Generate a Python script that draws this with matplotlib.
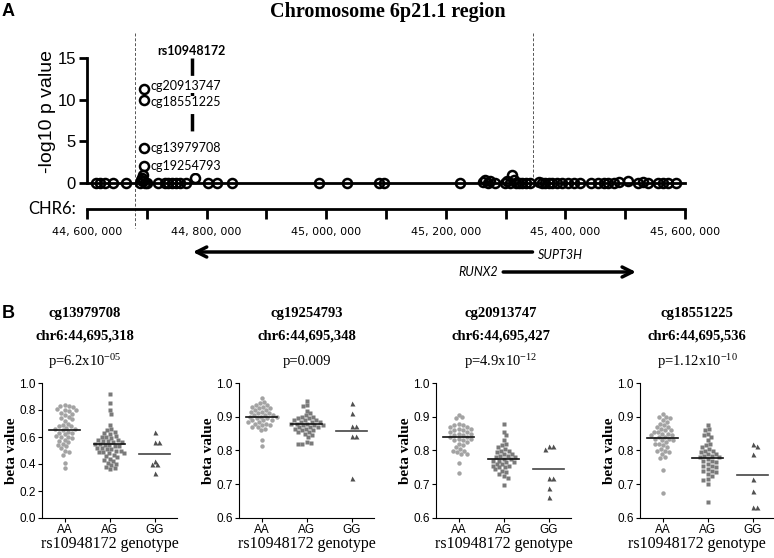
import numpy as np
import matplotlib
matplotlib.use('Agg')
from matplotlib import pyplot as plt
from matplotlib import transforms
from matplotlib.ticker import FuncFormatter, MultipleLocator

plt.rcParams['font.family'] = 'Liberation Sans'
plt.rcParams['mathtext.fontset'] = 'custom'
plt.rcParams['mathtext.rm'] = 'Liberation Serif'
plt.rcParams['mathtext.it'] = 'Liberation Serif:italic'
plt.rcParams['mathtext.bf'] = 'Liberation Serif:bold'

# ---- panel A data: CpG positions (bp) and -log10 p
cpg_pos = [44615000, 44622000, 44630000, 44643000, 44665000,
           44688000, 44690000, 44692000, 44693000, 44694000, 44697000,
           44700000, 44718000, 44730000, 44736000, 44742000, 44748000, 44755000, 44765000,
           44781000, 44803000, 44817000, 44842000,
           44988000, 45034000, 45089000, 45097000,
           45224000, 45262000, 45266000, 45270000, 45274000, 45282000,
           45299000, 45303000, 45307000, 45311000, 45314000, 45318000, 45322000, 45328000,
           45334000, 45341000,
           45356000, 45361000, 45366000, 45372000, 45378000, 45386000, 45395000, 45405000,
           45415000, 45425000,
           45442000, 45454000, 45464000, 45471000, 45481000, 45489000, 45504000, 45521000,
           45529000, 45538000, 45555000, 45563000, 45571000, 45585000]
cpg_logp = [0, 0, 0, 0, 0,
            0, 0.3, 0.6, 1.0, 0.2, 0,
            0, 0, 0, 0, 0, 0, 0, 0,
            0.65, 0, 0, 0,
            0, 0, 0, 0,
            0, 0.1, 0.3, 0, 0.2, 0,
            0, 0.2, 0, 1.0, 0.4, 0, 0, 0,
            0, 0,
            0.15, 0, 0, 0, 0, 0, 0, 0,
            0, 0,
            0, 0, 0, 0, 0, 0.1, 0.2, 0,
            0.1, 0, 0, 0, 0, 0]

top_names = ['cg13979708', 'cg19254793', 'cg20913747', 'cg18551225']
top_pos = [44695318, 44695348, 44695427, 44695536]
top_logp = [4.21, 2.05, 11.31, 9.95]
top_dy = [0, 0, 2, -1.5]

snp_name = 'rs10948172'
snp_pos = 44774800
region_edges = [44680700, 45345000]

genes = ['SUPT3H', 'RUNX2']
gene_start = [44777000, 45296000]
gene_end = [45345000, 45518000]
gene_strand = [-1, 1]

# ---- panel B data
genotypes = ['AA', 'AG', 'GG']
probe_loc = ['chr6:44,695,318', 'chr6:44,695,348', 'chr6:44,695,427', 'chr6:44,695,536']
probe_p = [r'p=6.2x10$^{-05}$', 'p=0.009', r'p=4.9x10$^{-12}$', r'p=1.12x10$^{-10}$']

aa_vals = [
    [0.84, 0.83, 0.83, 0.82, 0.81, 0.80, 0.80, 0.79, 0.78, 0.77, 0.76, 0.75, 0.74, 0.73, 0.72,
     0.70, 0.69, 0.68, 0.68, 0.67, 0.66, 0.66, 0.65, 0.64, 0.63, 0.63, 0.62, 0.61, 0.60, 0.60,
     0.59, 0.58, 0.57, 0.56, 0.55, 0.54, 0.53, 0.52, 0.50, 0.49, 0.47, 0.41, 0.37],
    [0.955, 0.945, 0.94, 0.935, 0.935, 0.93, 0.93, 0.925, 0.925, 0.92, 0.92, 0.915, 0.915, 0.91,
     0.91, 0.905, 0.905, 0.905, 0.90, 0.90, 0.90, 0.895, 0.895, 0.89, 0.89, 0.89, 0.885, 0.885,
     0.88, 0.88, 0.875, 0.875, 0.87, 0.87, 0.865, 0.86, 0.83, 0.813],
    [0.905, 0.898, 0.895, 0.88, 0.875, 0.875, 0.87, 0.87, 0.865, 0.865, 0.86, 0.86, 0.855, 0.855,
     0.85, 0.85, 0.845, 0.845, 0.84, 0.84, 0.835, 0.835, 0.83, 0.83, 0.825, 0.82, 0.815, 0.81,
     0.805, 0.80, 0.80, 0.795, 0.79, 0.79, 0.762, 0.734],
    [0.907, 0.90, 0.90, 0.895, 0.89, 0.885, 0.88, 0.875, 0.87, 0.87, 0.865, 0.86, 0.86, 0.855,
     0.855, 0.85, 0.85, 0.845, 0.845, 0.84, 0.84, 0.835, 0.835, 0.83, 0.83, 0.825, 0.82, 0.82,
     0.815, 0.81, 0.805, 0.80, 0.80, 0.795, 0.79, 0.78, 0.777, 0.742, 0.673]]
ag_vals = [
    [0.92, 0.85, 0.80, 0.77, 0.69, 0.66, 0.65, 0.64, 0.63, 0.62, 0.61, 0.60, 0.60, 0.59, 0.58,
     0.58, 0.57, 0.57, 0.56, 0.56, 0.55, 0.55, 0.54, 0.54, 0.53, 0.53, 0.52, 0.52, 0.51, 0.51,
     0.50, 0.50, 0.49, 0.49, 0.48, 0.48, 0.47, 0.46, 0.45, 0.44, 0.43, 0.42, 0.41, 0.40, 0.39,
     0.38, 0.37, 0.36],
    [0.948, 0.935, 0.932, 0.918, 0.91, 0.905, 0.90, 0.90, 0.895, 0.895, 0.89, 0.89, 0.89, 0.885,
     0.885, 0.885, 0.88, 0.88, 0.88, 0.875, 0.875, 0.875, 0.87, 0.87, 0.87, 0.865, 0.865, 0.86,
     0.86, 0.855, 0.855, 0.85, 0.845, 0.84, 0.825, 0.822, 0.82, 0.818],
    [0.878, 0.855, 0.845, 0.83, 0.82, 0.815, 0.81, 0.805, 0.80, 0.80, 0.795, 0.79, 0.79, 0.785,
     0.785, 0.78, 0.78, 0.775, 0.775, 0.77, 0.77, 0.765, 0.765, 0.76, 0.76, 0.755, 0.755, 0.75,
     0.75, 0.745, 0.74, 0.735, 0.73, 0.725, 0.72, 0.698],
    [0.877, 0.865, 0.86, 0.85, 0.845, 0.84, 0.83, 0.82, 0.815, 0.81, 0.805, 0.80, 0.80, 0.795,
     0.79, 0.79, 0.785, 0.785, 0.78, 0.78, 0.775, 0.77, 0.77, 0.765, 0.76, 0.755, 0.755, 0.75,
     0.745, 0.74, 0.74, 0.735, 0.73, 0.725, 0.715, 0.713, 0.70, 0.646]]
gg_vals = [
    [0.635, 0.565, 0.565, 0.422, 0.398, 0.398, 0.331],
    [0.942, 0.912, 0.874, 0.874, 0.843, 0.843, 0.72],
    [0.813, 0.813, 0.805, 0.718, 0.718, 0.688, 0.663],
    [0.818, 0.813, 0.79, 0.716, 0.68, 0.634, 0.634]]
group_means = [[0.65, 0.55, 0.475], [0.90, 0.88, 0.858], [0.839, 0.775, 0.745], [0.838, 0.777, 0.727]]
y_limits = [(0, 1.0), (0.6, 1.0), (0.6, 1.0), (0.6, 1.0)]
y_steps = [0.2, 0.1, 0.1, 0.1]

W, H = 774, 558
fig = plt.figure(figsize=[W / 100, H / 100], dpi=100)


def fx(px):
    return px / W


def fy(px):
    return 1 - px / H


def swarm(vals, center, px_per_x, px_per_y, d):
    # simple beeswarm: place each point as near the centre as it can go without overlap
    placed = []
    xs = np.zeros(len(vals))
    order = np.argsort(vals)[::-1]
    for i in order:
        y = vals[i] * px_per_y
        cands = [0.0]
        for (xj, yj) in placed:
            dy = y - yj
            if abs(dy) < d:
                off = np.sqrt(d * d - dy * dy)
                cands += [xj + off, xj - off]
        cands = sorted(cands, key=abs)
        for c in cands:
            if all((c - xj) ** 2 + (y - yj) ** 2 >= d * d - 1e-6 for (xj, yj) in placed):
                xs[i] = c
                break
        placed.append((xs[i], y))
    return center + xs / px_per_x


# ================= panel A =================
axA = fig.add_axes([fx(87), fy(183), fx(598), 125 / H])
axA.set_xlim(44600000, 45600000)
axA.set_ylim(0, 15)
for s in ['top', 'right']:
    axA.spines[s].set_visible(False)
axA.spines['left'].set_linewidth(2)
axA.spines['bottom'].set_linewidth(2)
axA.set_xticks([])
axA.set_yticks([0, 5, 10, 15])
axA.tick_params(axis='y', width=2, length=6, labelsize=12, pad=2)
axA.set_ylabel('-log10 p value', fontsize=14)
axA.yaxis.set_label_coords(-0.052, 0.57)

axA.plot(cpg_pos, cpg_logp, 'o', ms=6.5, mfc='none', mec='k', mew=1.8, clip_on=False, zorder=3)
axA.plot(top_pos, top_logp, 'o', ms=6.5, mfc='none', mec='k', mew=1.8, clip_on=False, zorder=5)

axA.plot([snp_pos, snp_pos], [15, 5.5], color='k', lw=2.5, linestyle=(0, (5, 3)), zorder=1)
axA.annotate(snp_name, (snp_pos, 15), xytext=(0, 5), textcoords='offset points',
             ha='center', va='center', fontsize=9, fontweight='bold', family='Lato')
for name, p, v, dy in zip(top_names, top_pos, top_logp, top_dy):
    axA.annotate(name, (p, v), xytext=(4.5, dy), textcoords='offset points', ha='left', va='center',
                 fontsize=9, family='Lato', zorder=4,
                 bbox=dict(boxstyle='square,pad=0.05', fc='white', ec='none'))

blend = transforms.blended_transform_factory(axA.transData, fig.transFigure)
axA.plot([region_edges[0]] * 2, [fy(33), fy(228)], transform=blend, clip_on=False,
         color='#555555', lw=0.7, linestyle=(0, (3, 2)), zorder=0)
axA.plot([region_edges[1]] * 2, [fy(33), fy(178)], transform=blend, clip_on=False,
         color='#555555', lw=0.7, linestyle=(0, (3, 2)), zorder=0)

# chromosome coordinate axis
axC = fig.add_axes([fx(87), fy(209), fx(598), 0.0001])
axC.set_xlim(44600000, 45600000)
axC.set_ylim(0, 1)
for s in ['top', 'right', 'left']:
    axC.spines[s].set_visible(False)
axC.spines['bottom'].set_linewidth(2)
axC.set_yticks([])
axC.xaxis.set_major_locator(MultipleLocator(100000))
axC.xaxis.set_major_formatter(FuncFormatter(
    lambda v, p: '' if int(round(v / 100000)) % 2 else '{:,}'.format(int(round(v))).replace(',', ', ')))
axC.tick_params(axis='x', width=2, length=7, labelsize=8, pad=6)
for lab in axC.get_xticklabels():
    lab.set_family('DejaVu Sans')
fig.text(fx(28), fy(209), 'CHR6:', fontsize=12, family='Lato', va='center', ha='left')

gene_y = [fy(252), fy(272)]
for g, a, b, st, gy in zip(genes, gene_start, gene_end, gene_strand, gene_y):
    head, tail = (a, b) if st < 0 else (b, a)
    axA.annotate('', xy=(head, gy), xytext=(tail, gy), xycoords=('data', 'figure fraction'),
                 textcoords=('data', 'figure fraction'),
                 arrowprops=dict(arrowstyle='->', lw=2.5, color='k', shrinkA=0, shrinkB=0,
                                 mutation_scale=18))
    if st < 0:
        axA.annotate(g, (b, gy), xycoords=('data', 'figure fraction'), xytext=(4, -2),
                     textcoords='offset points', ha='left', va='center', fontsize=9,
                     style='italic', family='Lato')
    else:
        axA.annotate(g, (a, gy), xycoords=('data', 'figure fraction'), xytext=(-4, 0),
                     textcoords='offset points', ha='right', va='center', fontsize=9,
                     style='italic', family='Lato')

fig.text(fx(388), fy(12), 'Chromosome 6p21.1 region', ha='center', va='center',
         fontsize=14.5, fontweight='bold', family='Liberation Serif')
fig.text(fx(2), fy(12), 'A', ha='left', va='center', fontsize=13, fontweight='bold')
fig.text(fx(2), fy(314), 'B', ha='left', va='center', fontsize=13, fontweight='bold')

# ================= panel B =================
ax_left = [42, 239, 436, 640]
title_x = [85, 307, 501, 697]
xlabel_x = [110, 307, 504, 697]
colors = ['#a3a3a3', '#7a7a7a', '#505050']
markers = ['o', 's', '^']
mean_colors = ['#111111', '#111111', '#444444']
for k in range(4):
    ax = fig.add_axes([fx(ax_left[k]), fy(518), fx(135), 135 / H])
    lo, hi = y_limits[k]
    ax.set_xlim(0.5, 3.5)
    ax.set_ylim(lo, hi)
    py = 135 / (hi - lo)
    groups = [aa_vals[k], ag_vals[k], gg_vals[k]]
    for j, vals in enumerate(groups):
        vals = np.array(vals)
        xs = swarm(vals, j + 1, 45.0, py, 4.4)
        ax.plot(xs, vals, markers[j], ms=3.2 if j < 2 else 3.6, color=colors[j], mec='none',
                clip_on=False)
        ax.plot([j + 1 - 0.35, j + 1 + 0.35], [group_means[k][j]] * 2, color=mean_colors[j], lw=1.2)
    for s in ['top', 'right']:
        ax.spines[s].set_visible(False)
    ax.set_xticks([1, 2, 3])
    ax.set_xticklabels(genotypes)
    ax.yaxis.set_major_locator(MultipleLocator(y_steps[k]))
    ax.yaxis.set_major_formatter(FuncFormatter(lambda v, p: '{:.1f}'.format(v)))
    ax.tick_params(labelsize=8.5, length=3, pad=1.5)
    ax.set_ylabel('beta value', fontsize=11, fontweight='bold', family='Liberation Serif')
    ax.yaxis.set_label_coords(-0.175, 0.5)
    ax.set_xlabel('rs10948172 genotype', fontsize=11.5, family='Liberation Serif')
    ax.xaxis.set_label_coords((xlabel_x[k] - ax_left[k]) / 135, -0.13)
    fig.text(fx(title_x[k]), fy(313), top_names[k], ha='center', va='center', fontsize=10.5,
             fontweight='bold', family='Liberation Serif')
    fig.text(fx(title_x[k]), fy(336), probe_loc[k], ha='center', va='center', fontsize=10.5,
             fontweight='bold', family='Liberation Serif')
    fig.text(fx(title_x[k]), fy(362), probe_p[k], ha='center', va='center', fontsize=10.5,
             family='Liberation Serif')

plt.savefig('out.png', dpi=100)
